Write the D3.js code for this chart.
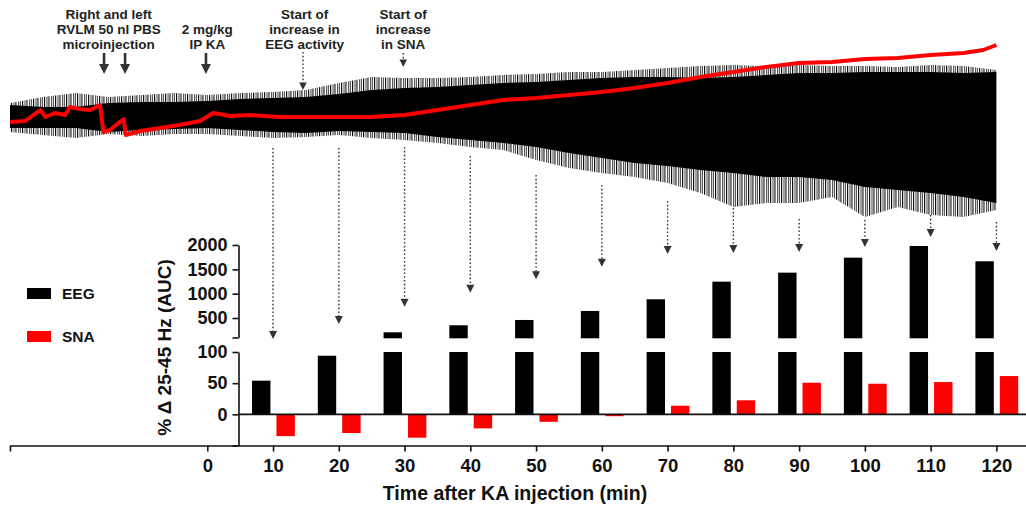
<!DOCTYPE html>
<html><head><meta charset="utf-8">
<script src="https://cdn.jsdelivr.net/npm/d3@7"></script>
<style>
html,body{margin:0;padding:0;background:#fff;}
svg text{font-family:"Liberation Sans",Arial,Helvetica,sans-serif;font-weight:bold;fill:#111;}
</style></head>
<body><svg id="c" width="1026" height="507"></svg>
<script>
// ---- Bar data (time after KA injection, min) ----
const times = [10,20,30,40,50,60,70,80,90,100,110,120];
const eegAUC = [54,94,207,351,460,645,885,1247,1432,1740,1980,1666];
const snaAUC = [-35,-30,-37.5,-22.5,-12,-3,13.8,22.5,50.7,49.1,51.8,61.4];
const xTicks = [-30,0,10,20,30,40,50,60,70,80,90,100,110,120];
const upperTicks = [100,500,1000,1500,2000];
const lowerTicks = [-50,0,50,100];

// ---- Raw trace envelopes (arbitrary units), read every 5 min ----
const traceT   = [-30,-25,-20,-15,-10,-5,0,5,10,15,20,25,30,35,40,45,50,55,60,65,70,75,80,85,90,95,100,105,110,115,120];
const eegCoreHi= [26,22,22,30,32,32,34,38,40,42,48,56,60,62,66,70,72,76,80,82,82,80,82,86,90,90,92,92,92,90,92];
const eegCoreLo= [-20,-20,-20,-28,-24,-22,-20,-24,-28,-30,-26,-28,-30,-38,-44,-50,-58,-70,-80,-90,-96,-104,-110,-118,-118,-124,-138,-144,-150,-158,-170];
const eegSpkHi = [30,42,50,42,46,50,46,50,52,56,70,82,80,80,82,86,88,92,92,96,100,104,106,104,106,104,104,102,106,104,96];
const eegSpkLo = [-28,-34,-40,-32,-36,-32,-32,-36,-40,-38,-34,-40,-44,-50,-58,-64,-84,-100,-110,-118,-130,-150,-178,-170,-170,-158,-198,-178,-194,-198,-184];
// SNA raw trace
const snaT = [-30,-27.7,-25.4,-24.6,-23.2,-21.6,-20.9,-19.4,-17.8,-16.3,-15.8,-14.8,-13.3,-12.7,-12.4,-10.2,-7.2,-4.2,-1.1,0.9,3.5,6.5,11,15.6,20,25,30,35,40,45,50,55,60,65,70,75,80,85,90,95,100,105,110,115,118,120];
const snaV = [-8,-6,16,2,10,6,22,18,16,26,-28,-24,-8,-2,-34,-26,-20,-14,-6,10,4,6,2,2,2,2,6,16,26,36,40,46,52,60,70,82,92,102,110,112,118,120,126,130,136,146];

// ---- Annotations ----
const topNotes = [
  {t:-15, lines:["Right and left","RVLM 50 nl PBS","microinjection"]},
  {t:0, lines:["","2 mg/kg","IP KA"]},
  {t:14.8, lines:["Start of","increase in","EEG activity"]},
  {t:29.8, lines:["Start of","increase","in SNA"]}
];
const solidArrowT = [-15.7,-12.5,-0.2];
const dottedTopArrows = [{t:14.55, from:52, to:90},{t:29.8, from:53, to:67}];
// dotted arrows from trace to bars: start in trace units, end in AUC units
const arrowFrom = [-60,-60,-58,-76,-114,-134,-166,-180,-202,-204,-194,-208];
const arrowTo   = [69,377,733,1021,1296,1555,1816,1836,1857,1960,2165,1878];

const legendItems = [{name:"EEG", color:"#000"},{name:"SNA", color:"#ff0000"}];

// ---- Scales ----
const svg = d3.select("#c");
const x = d3.scaleLinear().domain([-30,124.5]).range([10,1026]);
const yUpper = d3.scaleLinear().domain([100,2000]).range([337.5,245]);
const yLower = d3.scaleLinear().domain([-50,100]).range([445.5,352]);
const yTrace = d3.scaleLinear().domain([-200,200]).range([218,18]);
const axisX = 238.5;

// irregular vertical-stroke pattern for spiky edges of the trace
const defs = svg.append("defs");
const pat = defs.append("pattern").attr("id","spk").attr("patternUnits","userSpaceOnUse")
  .attr("width",11).attr("height",20);
[[0,1.2],[2.6,0.8],[4.4,1.1],[7.3,0.9],[9.1,0.7]].forEach(([px,pw])=>
  pat.append("rect").attr("x",px).attr("width",pw).attr("height",20).attr("fill","#111"));

// ---- Trace ----
const traceIdx = d3.range(traceT.length);
svg.append("path")
  .attr("d", d3.area().x(i=>x(traceT[i])).y0(i=>yTrace(eegSpkLo[i])).y1(i=>yTrace(eegSpkHi[i]))(traceIdx))
  .attr("fill","url(#spk)");
svg.append("path")
  .attr("d", d3.area().x(i=>x(traceT[i])).y0(i=>yTrace(eegCoreLo[i])).y1(i=>yTrace(eegCoreHi[i]))(traceIdx))
  .attr("fill","#000");
svg.append("path")
  .attr("d", d3.line().x(i=>x(snaT[i])).y(i=>yTrace(snaV[i]))(d3.range(snaT.length)))
  .attr("fill","none").attr("stroke","#ff0000").attr("stroke-width",4).attr("stroke-linejoin","round");

// ---- Arrow helper ----
function arrow(g, xp, y1, y2, dotted, head, shaft){
  g.append("line").attr("x1",xp).attr("x2",xp).attr("y1",y1).attr("y2",y2-head*0.8)
    .attr("stroke","#333").attr("stroke-width",shaft)
    .attr("stroke-dasharray",dotted?"1.6,2.2":null);
  g.append("path").attr("d",`M${xp-head/2},${y2-head} L${xp+head/2},${y2-head} L${xp},${y2} Z`).attr("fill","#333");
}
const ann = svg.append("g");
topNotes.forEach(n=>{
  n.lines.forEach((s,k)=>{
    if(!s) return;
    ann.append("text").attr("x",x(n.t)).attr("y",18.7+k*15).attr("text-anchor","middle")
      .attr("font-size","13.5px").style("fill","#222").text(s);
  });
});
solidArrowT.forEach(t=>arrow(ann, x(t), 53, 74, false, 10, 2.6));
dottedTopArrows.forEach(a=>arrow(ann, x(a.t), a.from, a.to, true, 7.5, 1.4));
times.forEach((t,i)=>arrow(ann, x(t), yTrace(arrowFrom[i]), yUpper(arrowTo[i]), true, 8, 1.4));

// ---- Bars ----
const bars = svg.append("g");
times.forEach((t,i)=>{
  const v = eegAUC[i];
  const xb = x(t)-21, w = 18.4;
  bars.append("rect").attr("x",xb).attr("width",w)
    .attr("y",yLower(Math.min(v,100))).attr("height",yLower(0)-yLower(Math.min(v,100))).attr("fill","#000");
  if(v>100){
    bars.append("rect").attr("x",xb).attr("width",w)
      .attr("y",yUpper(v)).attr("height",yUpper(100)-yUpper(v)+0.8).attr("fill","#000");
  }
  const s = snaAUC[i];
  bars.append("rect").attr("x",x(t)+3.4).attr("width",w)
    .attr("y",yLower(Math.max(s,0))).attr("height",Math.abs(yLower(s)-yLower(0))).attr("fill","#ff0000");
});

// zero line
svg.append("line").attr("x1",axisX).attr("x2",1026).attr("y1",yLower(0)).attr("y2",yLower(0))
  .attr("stroke","#111").attr("stroke-width",1.6);

// ---- Axes ----
function styleAxis(g, fs){
  g.selectAll("path,line").attr("stroke","#111").attr("stroke-width",1.6);
  g.selectAll("text").attr("font-size",fs).style("fill","#111");
}
const gx = svg.append("g").attr("transform",`translate(0,${yLower(-50)})`)
  .call(d3.axisBottom(x).tickValues(xTicks).tickFormat(d=>d<0?"":d).tickSize(6).tickSizeOuter(0).tickPadding(7));
styleAxis(gx,"18.5px");

const gu = svg.append("g").attr("transform",`translate(${axisX},0)`)
  .call(d3.axisLeft(yUpper).tickValues(upperTicks).tickFormat(d=>d===100?"":d).tickSize(6).tickSizeOuter(0).tickPadding(5));
styleAxis(gu,"18px");
const gl = svg.append("g").attr("transform",`translate(${axisX},0)`)
  .call(d3.axisLeft(yLower).tickValues(lowerTicks).tickFormat(d=>d<0?"":d).tickSize(6).tickSizeOuter(0).tickPadding(5));
styleAxis(gl,"18px");

svg.append("text").attr("x",515).attr("y",500).attr("text-anchor","middle")
  .attr("font-size","19.5px").text("Time after KA injection (min)");
svg.append("text").attr("transform","translate(164,347.5) rotate(-90)").attr("text-anchor","middle")
  .attr("dominant-baseline","central").attr("font-size","19px").text("% Δ 25-45 Hz (AUC)");

// ---- Legend ----
const lg = svg.append("g");
legendItems.forEach((d,i)=>{
  const yy = 288 + i*43;
  lg.append("rect").attr("x",27).attr("y",yy).attr("width",24).attr("height",11).attr("fill",d.color);
  lg.append("text").attr("x",62).attr("y",yy+11.3).attr("font-size","15.5px").text(d.name);
});
</script></body></html>
